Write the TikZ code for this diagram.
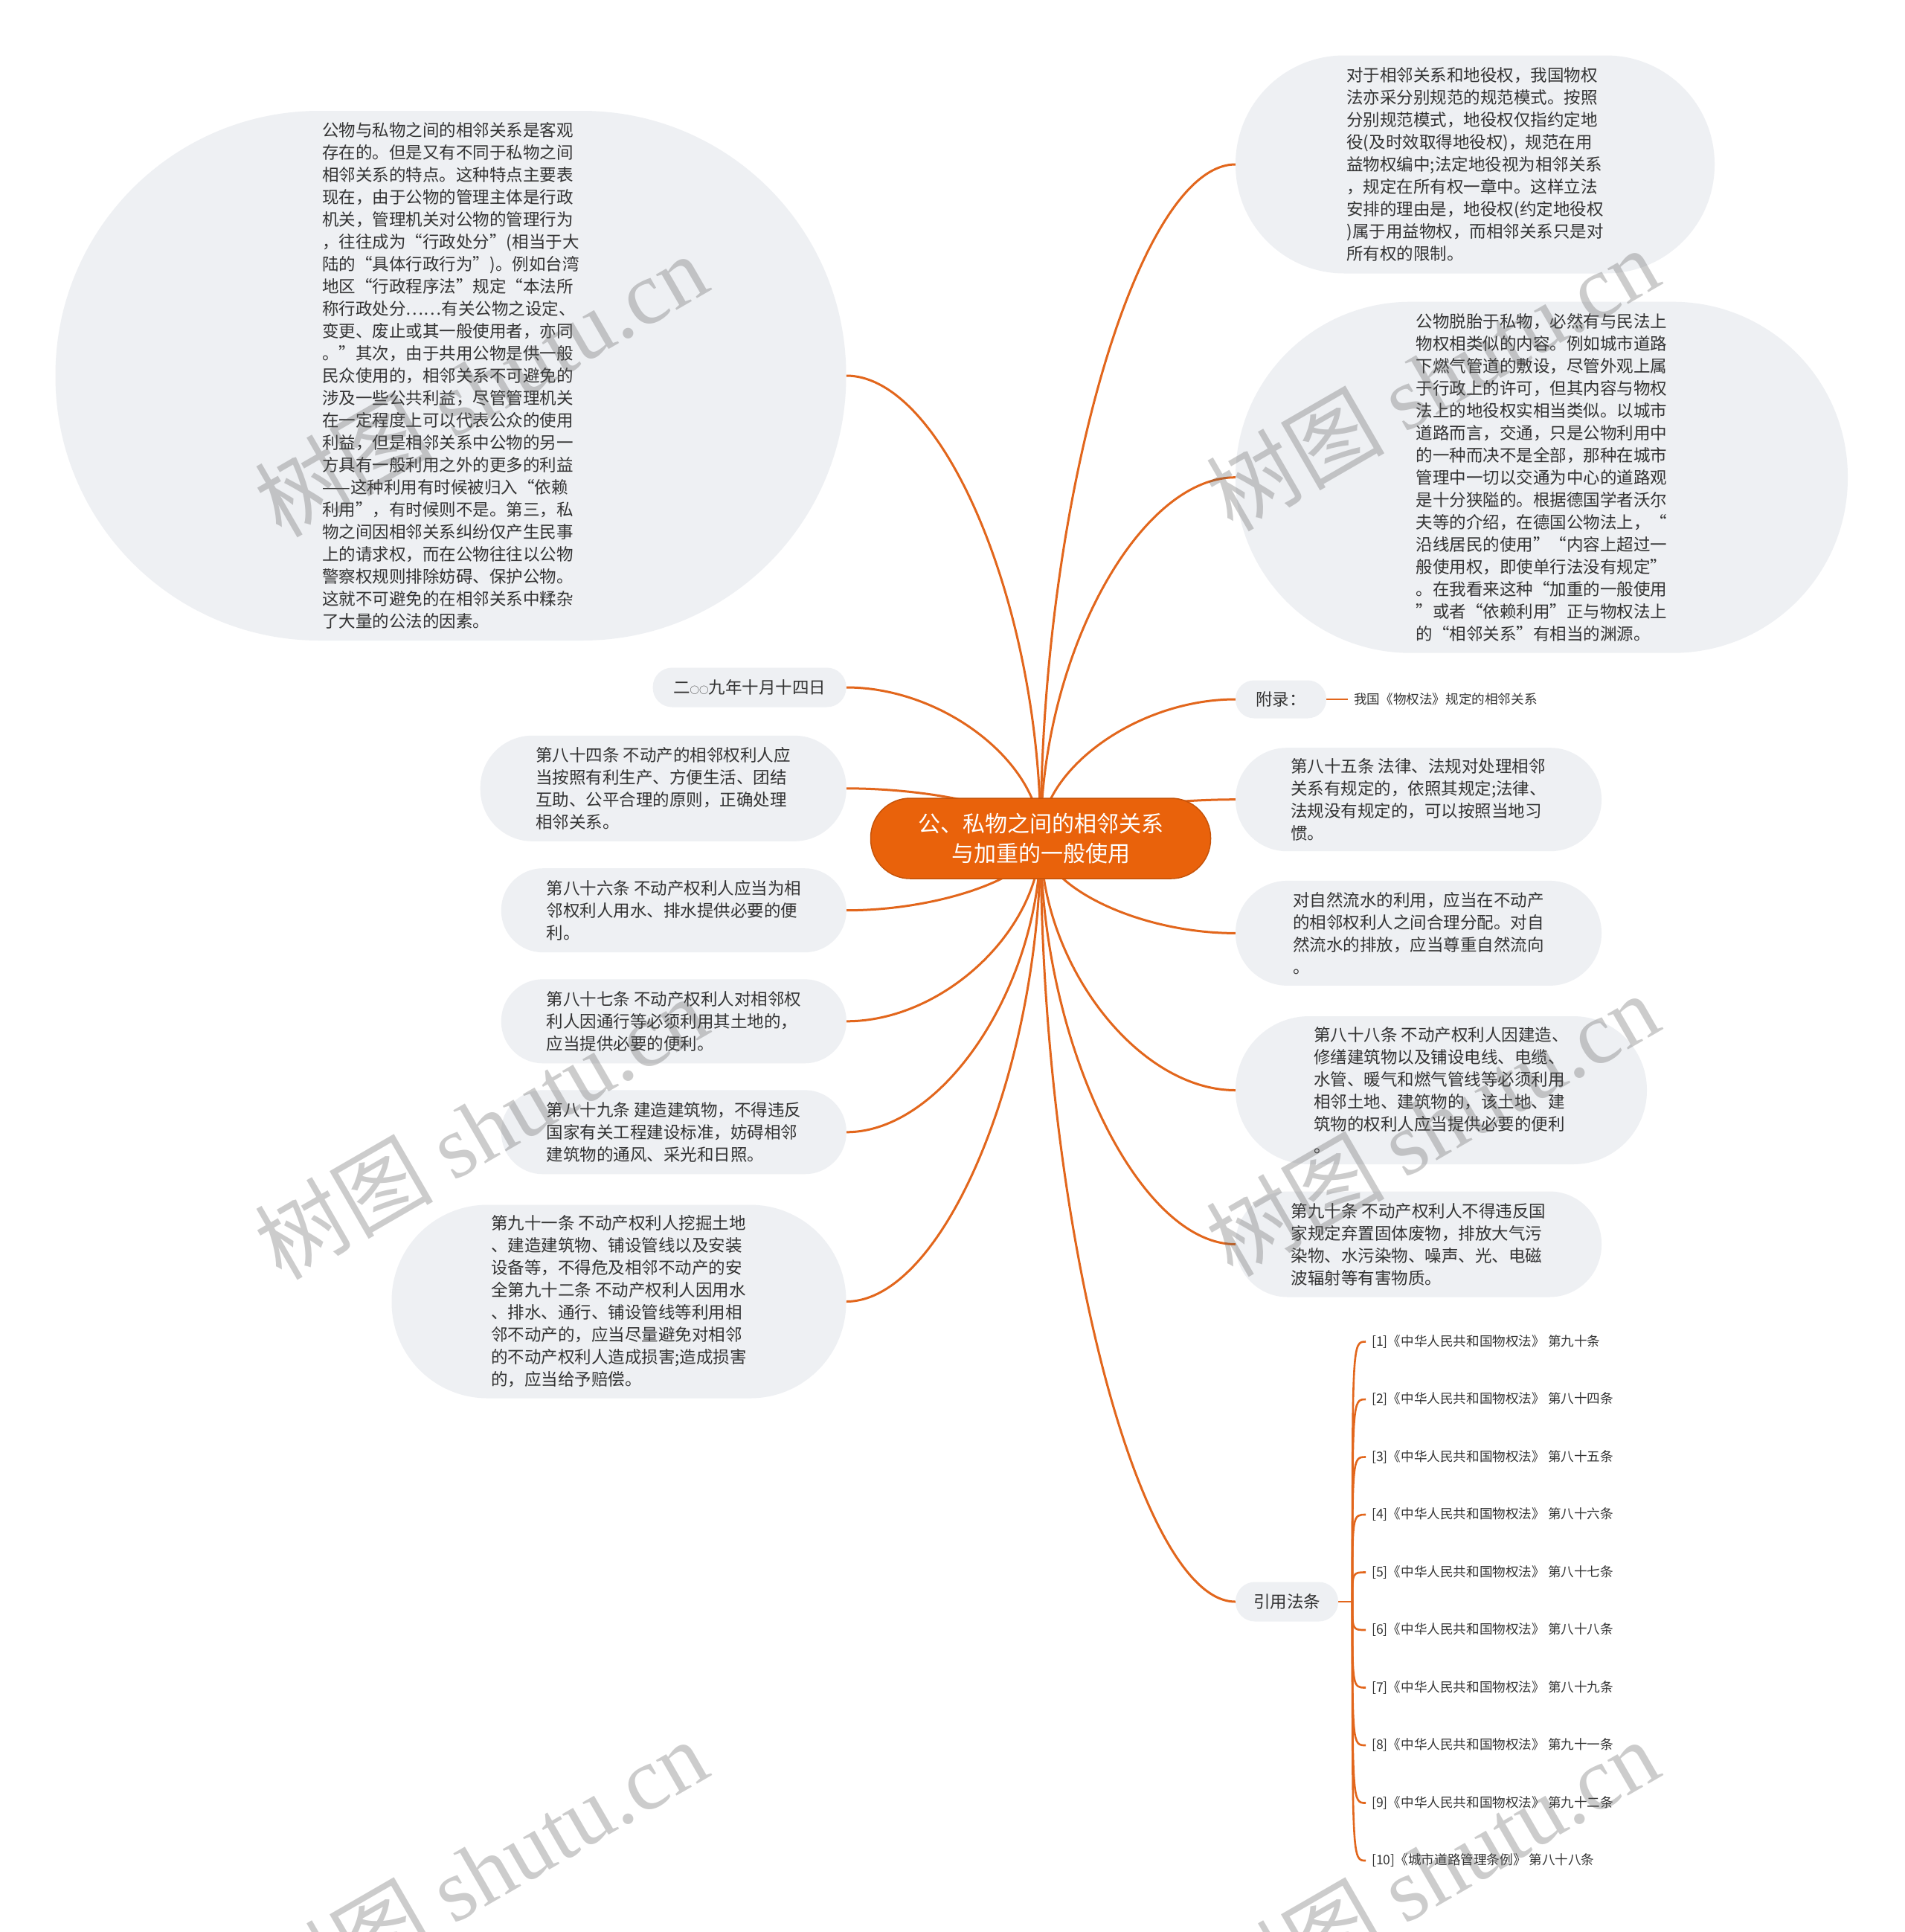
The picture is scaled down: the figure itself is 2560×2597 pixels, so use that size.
\documentclass[tikz,border=0pt]{standalone}
\usepackage{fontspec}
\setmainfont{Noto Sans CJK SC}
\newfontfamily\wmlatin{Liberation Serif}
\usetikzlibrary{calc}
\definecolor{nodegray}{HTML}{EEF0F3}
\definecolor{linkor}{HTML}{E2661C}
\definecolor{rootor}{HTML}{E9620B}
\definecolor{txtc}{HTML}{333333}
\pgfdeclarelayer{bglayer}
\pgfsetlayers{bglayer,main}
\tikzset{
  gbox/.style={fill=nodegray, draw=none, text=txtc, align=left, inner sep=0pt,
    font=\fontsize{22.5}{30}\selectfont},
  rootbox/.style={fill=rootor, draw=rootor!85!black, line width=1.5pt, text=white,
    align=center, inner sep=0pt, font=\fontsize{30}{40}\selectfont},
  mmlink/.style={draw=linkor, line width=3pt},
  sublink/.style={draw=linkor, line width=2.6pt},
  curvy/.style={to path={let \p1=(\tikztostart), \p2=(\tikztotarget) in
     .. controls (\x1,{0.5*(\y1+\y2)}) and ({0.5*(\x1+\x2)},\y2) .. (\tikztotarget)}},
  reftext/.style={anchor=west, text=txtc, inner xsep=8pt, inner ysep=2pt,
    font=\fontsize{17.6}{20}\selectfont},
  wm/.style={text=black!65, text opacity=0.3, font=\fontsize{120}{130}\selectfont,
    rotate=30, inner sep=0pt},
}
\newcommand\smallcirc{{\fontsize{12.5}{14}\selectfont ○}}
\begin{document}
\begin{tikzpicture}[x=1pt,y=-1pt]
\useasboundingbox (0,0) rectangle (2560,2597);
\begin{pgfonlayer}{bglayer}
\fill[white] (0,0) rectangle (2560,2597);
\end{pgfonlayer}

% root
\node[rootbox, minimum width=457pt, minimum height=108pt, rounded corners=53pt] (root) at (1399,1127)
  {公、私物之间的相邻关系\\与加重的一般使用};

% left side
\node[gbox, minimum width=1063pt, minimum height=712pt, rounded corners=355pt] (LB) at (606,505) {%
公物与私物之间的相邻关系是客观\\
存在的。但是又有不同于私物之间\\
相邻关系的特点。这种特点主要表\\
现在，由于公物的管理主体是行政\\
机关，管理机关对公物的管理行为\\
，往往成为“行政处分”(相当于大\\
陆的“具体行政行为”)。例如台湾\\
地区“行政程序法”规定“本法所\\
称行政处分……有关公物之设定、\\
变更、废止或其一般使用者，亦同\\
。”其次，由于共用公物是供一般\\
民众使用的，相邻关系不可避免的\\
涉及一些公共利益，尽管管理机关\\
在一定程度上可以代表公众的使用\\
利益，但是相邻关系中公物的另一\\
方具有一般利用之外的更多的利益\\
——这种利用有时候被归入“依赖\\
利用”，有时候则不是。第三，私\\
物之间因相邻关系纠纷仅产生民事\\
上的请求权，而在公物往往以公物\\
警察权规则排除妨碍、保护公物。\\
这就不可避免的在相邻关系中糅杂\\
了大量的公法的因素。};

\node[gbox, minimum width=260pt, minimum height=53pt, rounded corners=26pt] (D) at (1007.6,924)
  {二\smallcirc\smallcirc 九年十月十四日};

\node[gbox, minimum width=492pt, minimum height=142pt, rounded corners=70pt] (N84) at (891.7,1059.8) {%
第八十四条 不动产的相邻权利人应\\
当按照有利生产、方便生活、团结\\
互助、公平合理的原则，正确处理\\
相邻关系。};

\node[gbox, minimum width=464pt, minimum height=113pt, rounded corners=56pt] (N86) at (905.8,1223.7) {%
第八十六条 不动产权利人应当为相\\
邻权利人用水、排水提供必要的便\\
利。};

\node[gbox, minimum width=464pt, minimum height=113pt, rounded corners=56pt] (N87) at (905.8,1372.8) {%
第八十七条 不动产权利人对相邻权\\
利人因通行等必须利用其土地的，\\
应当提供必要的便利。};

\node[gbox, minimum width=464pt, minimum height=113pt, rounded corners=56pt] (N89) at (905.8,1521.8) {%
第八十九条 建造建筑物，不得违反\\
国家有关工程建设标准，妨碍相邻\\
建筑物的通风、采光和日照。};

\node[gbox, minimum width=611pt, minimum height=260pt, rounded corners=129pt] (N91) at (832,1749.5) {%
第九十一条 不动产权利人挖掘土地\\
、建造建筑物、铺设管线以及安装\\
设备等，不得危及相邻不动产的安\\
全第九十二条 不动产权利人因用水\\
、排水、通行、铺设管线等利用相\\
邻不动产的，应当尽量避免对相邻\\
的不动产权利人造成损害;造成损害\\
的，应当给予赔偿。};

% right side
\node[gbox, minimum width=644pt, minimum height=293pt, rounded corners=146pt] (R1) at (1983,221) {%
对于相邻关系和地役权，我国物权\\
法亦采分别规范的规范模式。按照\\
分别规范模式，地役权仅指约定地\\
役(及时效取得地役权)，规范在用\\
益物权编中;法定地役视为相邻关系\\
，规定在所有权一章中。这样立法\\
安排的理由是，地役权(约定地役权\\
)属于用益物权，而相邻关系只是对\\
所有权的限制。};

\node[gbox, minimum width=823pt, minimum height=472pt, rounded corners=235pt] (R2) at (2072.5,641.7) {%
公物脱胎于私物，必然有与民法上\\
物权相类似的内容。例如城市道路\\
下燃气管道的敷设，尽管外观上属\\
于行政上的许可，但其内容与物权\\
法上的地役权实相当类似。以城市\\
道路而言，交通，只是公物利用中\\
的一种而决不是全部，那种在城市\\
管理中一切以交通为中心的道路观\\
是十分狭隘的。根据德国学者沃尔\\
夫等的介绍，在德国公物法上，“\\
沿线居民的使用”“内容上超过一\\
般使用权，即使单行法没有规定”\\
。在我看来这种“加重的一般使用\\
”或者“依赖利用”正与物权法上\\
的“相邻关系”有相当的渊源。};

\node[gbox, minimum width=122pt, minimum height=51pt, rounded corners=25pt] (R3) at (1722,940) {附录：};
\node[reftext] (appx) at (1812,940) {我国《物权法》规定的相邻关系};

\node[gbox, minimum width=492pt, minimum height=139pt, rounded corners=69pt] (R4) at (1907,1074.7) {%
第八十五条 法律、法规对处理相邻\\
关系有规定的，依照其规定;法律、\\
法规没有规定的，可以按照当地习\\
惯。};

\node[gbox, minimum width=492pt, minimum height=141pt, rounded corners=70pt] (R5) at (1907,1254.4) {%
对自然流水的利用，应当在不动产\\
的相邻权利人之间合理分配。对自\\
然流水的排放，应当尊重自然流向\\
。};

\node[gbox, minimum width=553pt, minimum height=199pt, rounded corners=99pt] (R6) at (1937.5,1465.5) {%
第八十八条 不动产权利人因建造、\\
修缮建筑物以及铺设电线、电缆、\\
水管、暖气和燃气管线等必须利用\\
相邻土地、建筑物的，该土地、建\\
筑物的权利人应当提供必要的便利\\
。};

\node[gbox, minimum width=492pt, minimum height=142pt, rounded corners=70pt] (R7) at (1907,1672.5) {%
第九十条 不动产权利人不得违反国\\
家规定弃置固体废物，排放大气污\\
染物、水污染物、噪声、光、电磁\\
波辐射等有害物质。};

\node[gbox, minimum width=138pt, minimum height=53pt, rounded corners=26pt] (R8) at (1730,2153) {引用法条};

% references
\node[reftext] (ref1) at (1836,1803.5) {[1]《中华人民共和国物权法》 第九十条};
\node[reftext] (ref2) at (1836,1881) {[2]《中华人民共和国物权法》 第八十四条};
\node[reftext] (ref3) at (1836,1958.5) {[3]《中华人民共和国物权法》 第八十五条};
\node[reftext] (ref4) at (1836,2036) {[4]《中华人民共和国物权法》 第八十六条};
\node[reftext] (ref5) at (1836,2113.5) {[5]《中华人民共和国物权法》 第八十七条};
\node[reftext] (ref6) at (1836,2191) {[6]《中华人民共和国物权法》 第八十八条};
\node[reftext] (ref7) at (1836,2268.5) {[7]《中华人民共和国物权法》 第八十九条};
\node[reftext] (ref8) at (1836,2346) {[8]《中华人民共和国物权法》 第九十一条};
\node[reftext] (ref9) at (1836,2423.5) {[9]《中华人民共和国物权法》 第九十二条};
\node[reftext] (ref10) at (1836,2501) {[10]《城市道路管理条例》 第八十八条};
\coordinate (trunk) at (1818,2153);

% connectors
\begin{pgfonlayer}{bglayer}
\foreach \t in {LB,D,N84,N86,N87,N89,N91}
  \draw[mmlink] (root.center) to[curvy] (\t.east);
\foreach \t in {R1,R2,R3,R4,R5,R6,R7,R8}
  \draw[mmlink] (root.center) to[curvy] (\t.west);
\draw[sublink] (R3.east) -- (appx.west);
\draw[sublink] (R8.east) -- (trunk);
\foreach \i in {1,...,10}
  \draw[sublink] (trunk) .. controls (trunk |- ref\i.west) .. (ref\i.west);
\end{pgfonlayer}

% watermarks
\node[wm] (wm1) at (646,517) {树图 {\wmlatin shutu.cn}};
\node[wm] (wm2) at (1925,509) {树图 {\wmlatin shutu.cn}};
\node[wm] (wm3) at (646,1515) {树图 {\wmlatin shutu.cn}};
\node[wm] (wm4) at (1925,1511) {树图 {\wmlatin shutu.cn}};
\node[wm] (wm5) at (646,2514) {树图 {\wmlatin shutu.cn}};
\node[wm] (wm6) at (1925,2514) {树图 {\wmlatin shutu.cn}};
\end{tikzpicture}
\end{document}
